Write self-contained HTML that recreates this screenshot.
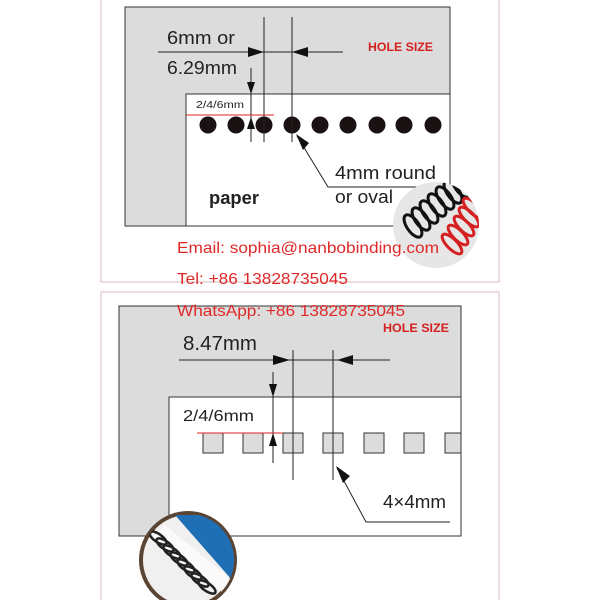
<!DOCTYPE html>
<html><head><meta charset="utf-8"><style>
body{margin:0;background:#fff}
svg{display:block}
text{font-family:"Liberation Sans","DejaVu Sans",sans-serif}
</style></head><body>
<svg width="600" height="600" viewBox="0 0 600 600" xmlns="http://www.w3.org/2000/svg">
<rect x="101" y="-2" width="398" height="284" fill="none" stroke="#d8bcbc" stroke-width="1"/>
<rect x="101" y="292" width="398" height="320" fill="none" stroke="#d8bcbc" stroke-width="1"/>

<!-- TOP -->
<rect x="125" y="7" width="325" height="219" fill="#dcdcdc" stroke="#333" stroke-width="1"/>
<rect x="186" y="94" width="264" height="132" fill="#fff" stroke="#333" stroke-width="1"/>
<g fill="#1a1212">
<circle cx="208" cy="125" r="8.5"/><circle cx="236" cy="125" r="8.5"/><circle cx="264" cy="125" r="8.5"/>
<circle cx="292" cy="125" r="8.5"/><circle cx="320" cy="125" r="8.5"/><circle cx="348" cy="125" r="8.5"/>
<circle cx="377" cy="125" r="8.5"/><circle cx="404" cy="125" r="8.5"/><circle cx="433" cy="125" r="8.5"/>
</g>
<g stroke="#222" stroke-width="1" fill="none">
<line x1="264" y1="17" x2="264" y2="142"/><line x1="292" y1="17" x2="292" y2="142"/>
<line x1="158" y1="52" x2="343" y2="52"/>
<line x1="251" y1="68" x2="251" y2="142"/>
<polyline points="297,136 328,187 450,187"/>
</g>
<line x1="186" y1="115" x2="274" y2="115" stroke="#d22" stroke-width="1"/>
<g fill="#111">
<polygon points="248,47 264,52 248,57"/><polygon points="308,47 292,52 308,57"/>
<polygon points="247,82 251,94 255,82"/><polygon points="247,129 251,117 255,129"/>
<polygon points="296,134 303,150 309,143"/>
</g>
<text x="167" y="44" font-size="18" fill="#222" textLength="68" lengthAdjust="spacingAndGlyphs">6mm or</text>
<text x="167" y="74" font-size="18" fill="#222" textLength="70" lengthAdjust="spacingAndGlyphs">6.29mm</text>
<text x="368" y="51" font-size="12" font-weight="bold" fill="#d42020" textLength="65" lengthAdjust="spacingAndGlyphs">HOLE SIZE</text>
<text x="196" y="108" font-size="10" fill="#222" textLength="48" lengthAdjust="spacingAndGlyphs">2/4/6mm</text>
<text x="335" y="179" font-size="18" fill="#222" textLength="101" lengthAdjust="spacingAndGlyphs">4mm round</text>
<text x="335" y="203" font-size="18" fill="#222" textLength="58" lengthAdjust="spacingAndGlyphs">or oval</text>
<text x="209" y="204" font-size="18" font-weight="bold" fill="#222" textLength="50" lengthAdjust="spacingAndGlyphs">paper</text>

<!-- top circle image -->
<clipPath id="c1"><circle cx="436" cy="225" r="43"/></clipPath>
<circle cx="436" cy="225" r="43" fill="#e6e6e6"/>
<g clip-path="url(#c1)">
<g fill="none" stroke="#111" stroke-width="3">
<ellipse cx="413" cy="226" rx="6" ry="13" transform="rotate(-35 413 226)"/>
<ellipse cx="421" cy="219" rx="6" ry="13" transform="rotate(-35 421 219)"/>
<ellipse cx="429" cy="212" rx="6" ry="13" transform="rotate(-35 429 212)"/>
<ellipse cx="437" cy="205" rx="6" ry="13" transform="rotate(-35 437 205)"/>
<ellipse cx="445" cy="198" rx="6" ry="13" transform="rotate(-35 445 198)"/>
<ellipse cx="453" cy="192" rx="6" ry="13" transform="rotate(-35 453 192)"/>
<ellipse cx="461" cy="186" rx="6" ry="13" transform="rotate(-35 461 186)"/>
</g>
<g fill="none" stroke="#d42020" stroke-width="3">
<ellipse cx="452" cy="244" rx="5" ry="13" transform="rotate(-45 452 244)"/>
<ellipse cx="458" cy="235" rx="5" ry="13" transform="rotate(-45 458 235)"/>
<ellipse cx="464" cy="226" rx="5" ry="13" transform="rotate(-45 464 226)"/>
<ellipse cx="469" cy="217" rx="5" ry="13" transform="rotate(-45 469 217)"/>
<ellipse cx="473" cy="208" rx="5" ry="13" transform="rotate(-45 473 208)"/>
</g>
</g>

<text x="177" y="253" font-size="16" fill="#e02828" textLength="262" lengthAdjust="spacingAndGlyphs">Email: sophia@nanbobinding.com</text>
<text x="177" y="284" font-size="16" fill="#e02828" textLength="171" lengthAdjust="spacingAndGlyphs">Tel: +86 13828735045</text>

<!-- BOTTOM -->
<rect x="119" y="306" width="342" height="230" fill="#dcdcdc" stroke="#333" stroke-width="1"/>
<rect x="169" y="397" width="292" height="139" fill="#fff" stroke="#333" stroke-width="1"/>
<g fill="#dcdcdc" stroke="#333" stroke-width="1">
<rect x="203" y="433" width="20" height="20"/><rect x="243" y="433" width="20" height="20"/>
<rect x="283" y="433" width="20" height="20"/><rect x="323" y="433" width="20" height="20"/>
<rect x="364" y="433" width="20" height="20"/><rect x="404" y="433" width="20" height="20"/>
<rect x="445" y="433" width="16" height="20"/>
</g>
<g stroke="#222" stroke-width="1" fill="none">
<line x1="293" y1="350" x2="293" y2="480"/><line x1="333" y1="350" x2="333" y2="480"/>
<line x1="179" y1="360" x2="390" y2="360"/>
<line x1="273" y1="372" x2="273" y2="463"/>
<polyline points="337,468 366,522 450,522"/>
</g>
<line x1="197" y1="433" x2="283" y2="433" stroke="#d22" stroke-width="1"/>
<g fill="#111">
<polygon points="273,355 290,360 273,365"/><polygon points="353,355 337,360 353,365"/>
<polygon points="269,384 273,397 277,384"/><polygon points="269,446 273,433 277,446"/>
<polygon points="336,466 343,483 350,476"/>
</g>
<text x="183" y="350" font-size="20" fill="#222" textLength="74" lengthAdjust="spacingAndGlyphs">8.47mm</text>
<text x="383" y="332" font-size="12" font-weight="bold" fill="#d42020" textLength="66" lengthAdjust="spacingAndGlyphs">HOLE SIZE</text>
<text x="183" y="421" font-size="16" fill="#222" textLength="71" lengthAdjust="spacingAndGlyphs">2/4/6mm</text>
<text x="383" y="508" font-size="18" fill="#222" textLength="63" lengthAdjust="spacingAndGlyphs">4×4mm</text>

<text x="177" y="316" font-size="16" fill="#e02828" textLength="228" lengthAdjust="spacingAndGlyphs">WhatsApp: +86 13828735045</text>

<!-- bottom circle image -->
<clipPath id="c2"><circle cx="188" cy="560" r="46"/></clipPath>
<circle cx="188" cy="560" r="47" fill="#f0f0f0" stroke="#5a4535" stroke-width="4"/>
<g clip-path="url(#c2)">
<polygon points="175,515 250,515 250,580 232,580" fill="#1f6fb5"/>
<polygon points="165,525 232,580 222,592 150,540" fill="#fafafa"/>
<g fill="none" stroke="#222" stroke-width="2.5">
<ellipse cx="158" cy="538" rx="4" ry="10" transform="rotate(-55 158 538)"/>
<ellipse cx="165" cy="545" rx="4" ry="10" transform="rotate(-55 165 545)"/>
<ellipse cx="172" cy="552" rx="4" ry="10" transform="rotate(-55 172 552)"/>
<ellipse cx="179" cy="559" rx="4" ry="10" transform="rotate(-55 179 559)"/>
<ellipse cx="186" cy="566" rx="4" ry="10" transform="rotate(-55 186 566)"/>
<ellipse cx="193" cy="573" rx="4" ry="10" transform="rotate(-55 193 573)"/>
<ellipse cx="200" cy="580" rx="4" ry="10" transform="rotate(-55 200 580)"/>
<ellipse cx="207" cy="587" rx="4" ry="10" transform="rotate(-55 207 587)"/>
</g>
</g>
</svg>
</body></html>
